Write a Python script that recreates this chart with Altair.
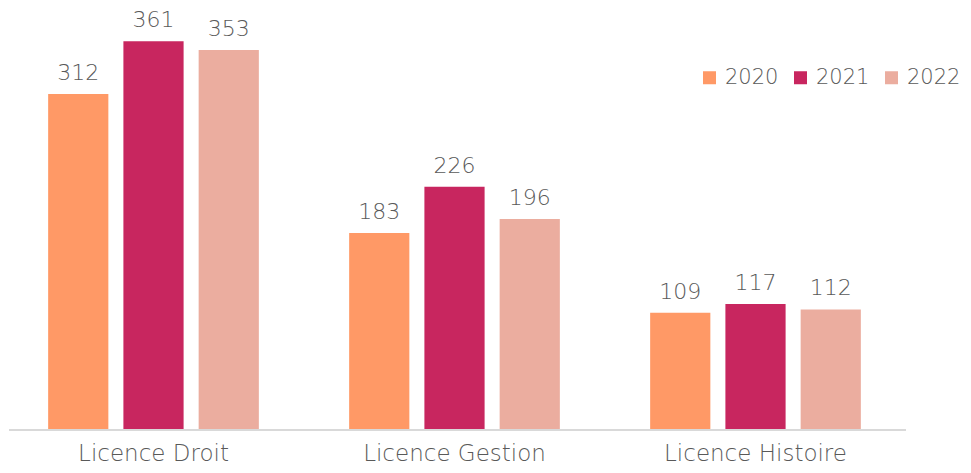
import altair as alt
import pandas as pd

categories = ["Licence Droit", "Licence Gestion", "Licence Histoire"]
years = ["2020", "2021", "2022"]
values_2020 = [312, 183, 109]
values_2021 = [361, 226, 117]
values_2022 = [353, 196, 112]
colors = ["#FF9966", "#C8265F", "#EBAD9F"]

rows = []
for i, c in enumerate(categories):
    for y, vals in zip(years, [values_2020, values_2021, values_2022]):
        rows.append({"cat": c, "year": y, "value": vals[i]})
df = pd.DataFrame(rows)

W, H = 897, 422
FONT = "DejaVu Sans"
WEIGHT = 300
TXT = "#595959"

x = alt.X("cat:N", sort=categories, title=None,
          scale=alt.Scale(range=[-6, 897], paddingInner=0.3, paddingOuter=0.15),
          axis=alt.Axis(labelAngle=0, domain=False, ticks=False, labelFontSize=23,
                        labelFont=FONT, labelFontWeight=WEIGHT, labelColor=TXT,
                        labelPadding=12, labelLimit=400))
xo = alt.XOffset("year:N", sort=years, scale=alt.Scale(paddingInner=0.2, paddingOuter=0))
y = alt.Y("value:Q", scale=alt.Scale(domain=[0, 392]), axis=None)

base = alt.Chart(df).encode(x=x, xOffset=xo, y=y)

bars = base.mark_bar().encode(
    color=alt.Color("year:N", sort=years, scale=alt.Scale(domain=years, range=colors),
                    legend=alt.Legend(title=None, orient="none", direction="horizontal",
                                      legendX=690, legendY=59, padding=0,
                                      symbolType="square", symbolSize=169,
                                      symbolStrokeWidth=0, labelFontSize=21,
                                      labelFont=FONT, labelFontWeight=WEIGHT,
                                      labelColor=TXT, labelOffset=5,
                                      columnPadding=11))
)
labels = base.mark_text(baseline="alphabetic", dy=-14, fontSize=22, font=FONT,
                        fontWeight=WEIGHT, color=TXT).encode(
    text=alt.Text("value:Q")
)
axis_line = alt.Chart(pd.DataFrame({"v": [0]})).mark_rule(color="#D9D9D9", strokeWidth=2).encode(
    x=alt.value(0), x2=alt.value(W), y=alt.value(H)
)

chart = alt.layer(bars, labels, axis_line).properties(
    width=W, height=H, padding=0
).configure_view(stroke=None)

chart.save("out.html", embed_options={"renderer": "svg", "actions": False})
